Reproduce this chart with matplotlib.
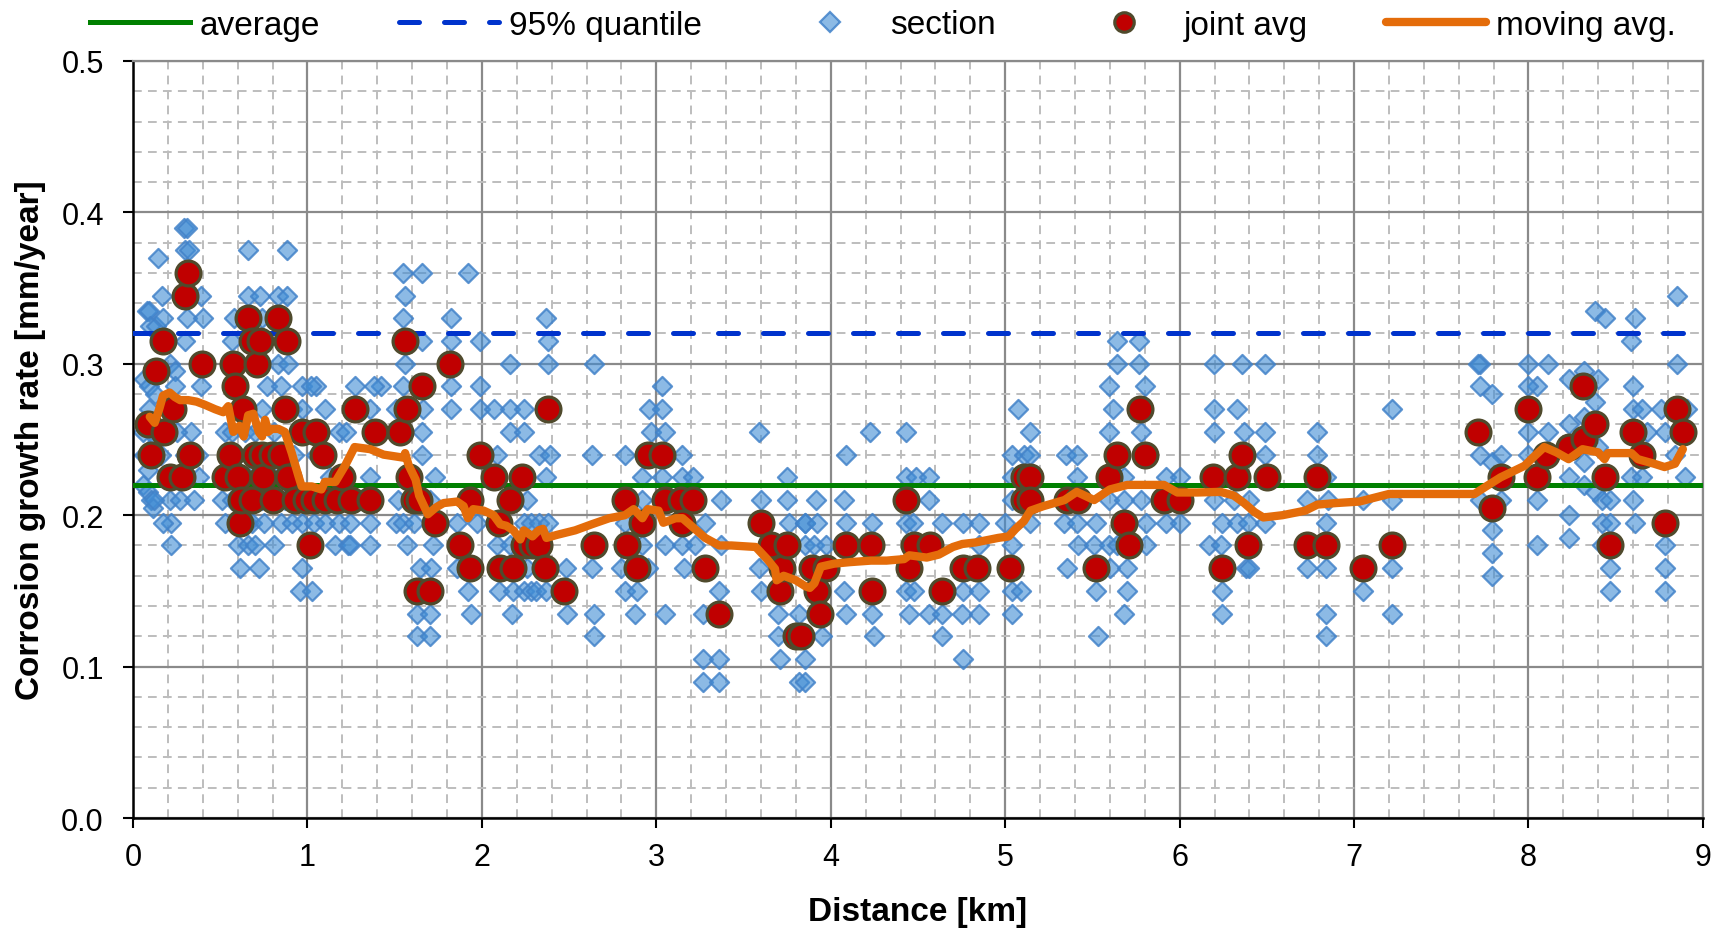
import matplotlib
matplotlib.use("Agg")
import matplotlib.pyplot as plt
from matplotlib.lines import Line2D
from matplotlib.ticker import MultipleLocator, FormatStrFormatter

plt.rcParams['font.family'] = ['Liberation Sans', 'DejaVu Sans']

# Reference levels [mm/year]
average_rate = 0.22
quantile_95 = 0.32

# Individual section measurements: distance [km] and corrosion growth rate [mm/year]
section_km = [
    0.08, 0.09, 0.095, 0.13, 0.145, 0.165, 0.17, 0.29, 0.31, 0.30, 0.32, 0.31, 0.30, 0.39, 0.40,
    0.21, 0.24, 0.065, 0.09, 0.125, 0.24, 0.39, 0.22, 0.09, 0.06, 0.33, 0.11, 0.065, 0.14, 0.25,
    0.30, 0.37, 0.06, 0.085, 0.085, 0.105, 0.115, 0.21, 0.27, 0.22, 0.22, 0.12, 0.17, 0.35, 0.38, 0.16,
    0.66, 0.88, 0.66, 0.73, 0.83, 0.88, 0.58, 0.74, 0.565, 0.83, 0.89, 0.77, 0.85, 0.97, 1.05,
    0.74, 0.91, 0.97, 1.10, 0.53, 0.565, 0.64, 0.70, 0.81, 0.60, 0.66, 0.76, 0.92, 0.53, 0.66,
    0.70, 0.80, 0.86, 0.51, 0.57, 0.74, 0.87, 0.527, 0.66, 0.68, 0.75, 0.85, 0.91, 0.97, 0.60,
    0.66, 0.70, 0.81, 0.613, 0.72, 0.97, 0.96, 1.025, 1.04, 1.10, 1.18, 1.16, 1.23, 1.18, 1.22,
    1.27, 1.05, 1.13, 1.20, 1.42, 1.02,
    1.55, 1.656, 1.92, 1.56, 1.55, 1.82, 2.37, 1.656, 1.82, 1.99, 2.38, 1.56, 2.16, 2.38, 1.55,
    1.82, 1.99, 1.38, 1.51, 1.665, 1.82, 1.99, 2.07, 2.16, 2.24, 1.36, 1.656, 2.16, 2.24, 1.656,
    2.086, 2.325, 2.39, 1.36, 1.73, 2.37, 1.52, 1.70, 2.26, 1.245, 1.36, 1.51, 1.55, 1.61, 1.857,
    1.97, 2.24, 2.28, 2.33, 2.38, 1.245, 1.36, 1.57, 1.72, 2.086, 2.16, 1.646, 1.71, 1.857, 2.26,
    2.48, 1.92, 2.10, 2.18, 2.24, 2.28, 2.31, 2.37, 1.627, 1.70, 1.94, 2.17, 2.49, 1.627, 1.70,
    2.64, 3.03, 2.96, 3.03, 2.97, 3.05, 3.59, 2.63, 2.82, 3.15, 2.92, 3.03, 3.15, 3.21, 3.75,
    2.92, 3.37, 3.60, 3.75, 2.82, 3.28, 3.76, 3.85, 2.92, 3.05, 3.15, 3.22, 3.37, 2.63, 2.80,
    2.95, 3.16, 3.59, 2.82, 2.89, 3.36, 3.60, 2.64, 2.88, 3.05, 3.27, 3.70, 3.82, 2.64, 3.70,
    3.27, 3.36, 3.71, 3.27, 3.36, 3.82,
    5.075, 4.226, 4.434, 4.085, 5.04, 5.11, 4.434, 4.49, 4.566, 5.04, 3.915, 4.075, 4.566, 5.04,
    3.85, 3.92, 4.085, 4.236, 4.434, 4.47, 4.64, 4.76, 4.85, 5.00, 3.85, 3.906, 3.97, 4.85, 5.04,
    4.075, 4.236, 4.434, 4.48, 4.76, 4.85, 5.04, 5.09, 4.085, 4.236, 4.45, 4.566, 4.64, 4.755,
    4.85, 5.04, 3.95, 4.245, 4.64, 4.76, 3.85, 3.85,
    5.64, 5.767, 5.64, 5.767, 6.197, 6.36, 5.595, 5.80, 5.62, 6.197, 6.33, 5.145, 5.595, 5.776,
    6.197, 6.37, 5.145, 5.346, 5.413, 5.41, 5.68, 5.92, 6.00, 5.595, 5.68, 5.776, 6.197, 6.31,
    5.145, 5.337, 5.41, 5.52, 5.805, 5.92, 6.00, 6.245, 6.33, 6.39, 5.42, 5.51, 5.595, 5.64,
    5.81, 6.17, 6.235, 5.356, 5.60, 5.70, 6.38, 5.52, 5.70, 6.245, 5.68, 6.245, 5.53,
    6.49, 6.49, 6.79, 6.49, 6.79, 6.84, 6.73, 6.85, 7.05, 7.22, 6.40, 6.49, 6.84, 7.22, 6.73,
    6.84, 7.22, 6.40, 7.05, 6.84, 7.22, 6.84, 7.72, 7.72, 7.72, 7.72,
    8.85, 8.38, 8.44, 8.61, 8.59, 7.71, 8.00, 8.11, 8.85, 8.32, 8.40, 8.23, 8.05, 7.79, 8.00,
    8.60, 8.38, 8.60, 8.65, 8.76, 8.91, 8.23, 8.32, 8.00, 8.11, 8.78, 8.68, 7.84, 8.00, 7.79,
    8.32, 8.40, 8.84, 8.23, 8.32, 8.38, 8.59, 8.65, 8.895, 8.05, 8.42, 8.47, 8.60, 7.84, 8.23,
    8.42, 8.47, 8.61, 7.79, 8.23, 8.05, 8.78, 8.42, 7.79, 8.47, 8.78, 7.79, 8.47, 8.78,
]
section_rate = [
    0.335, 0.335, 0.325, 0.325, 0.37, 0.345, 0.33, 0.39, 0.39, 0.375, 0.375, 0.33, 0.315, 0.345, 0.33,
    0.30, 0.295, 0.29, 0.285, 0.28, 0.285, 0.285, 0.27, 0.27, 0.255, 0.255, 0.245, 0.24, 0.25, 0.255,
    0.24, 0.24, 0.22, 0.23, 0.215, 0.21, 0.205, 0.21, 0.21, 0.195, 0.18, 0.21, 0.195, 0.21, 0.225, 0.24,
    0.375, 0.375, 0.345, 0.345, 0.345, 0.345, 0.33, 0.33, 0.315, 0.30, 0.30, 0.285, 0.285, 0.285, 0.285,
    0.27, 0.27, 0.27, 0.27, 0.255, 0.255, 0.255, 0.255, 0.255, 0.24, 0.24, 0.24, 0.24, 0.225, 0.225,
    0.225, 0.225, 0.225, 0.21, 0.21, 0.21, 0.21, 0.195, 0.195, 0.195, 0.195, 0.195, 0.195, 0.195, 0.18,
    0.18, 0.18, 0.18, 0.165, 0.165, 0.165, 0.15, 0.15, 0.195, 0.195, 0.195, 0.18, 0.18, 0.255, 0.255,
    0.285, 0.24, 0.225, 0.21, 0.285, 0.285,
    0.36, 0.36, 0.36, 0.345, 0.33, 0.33, 0.33, 0.315, 0.315, 0.315, 0.315, 0.30, 0.30, 0.30, 0.285,
    0.285, 0.285, 0.285, 0.27, 0.27, 0.27, 0.27, 0.27, 0.27, 0.27, 0.27, 0.255, 0.255, 0.255, 0.24,
    0.24, 0.24, 0.24, 0.225, 0.225, 0.225, 0.21, 0.21, 0.21, 0.195, 0.195, 0.195, 0.195, 0.195, 0.195,
    0.195, 0.195, 0.195, 0.195, 0.195, 0.18, 0.18, 0.18, 0.18, 0.18, 0.18, 0.165, 0.165, 0.165, 0.165,
    0.165, 0.15, 0.15, 0.15, 0.15, 0.15, 0.15, 0.15, 0.135, 0.135, 0.135, 0.135, 0.135, 0.12, 0.12,
    0.30, 0.285, 0.27, 0.27, 0.255, 0.255, 0.255, 0.24, 0.24, 0.24, 0.225, 0.225, 0.225, 0.225, 0.225,
    0.21, 0.21, 0.21, 0.21, 0.195, 0.195, 0.195, 0.195, 0.18, 0.18, 0.18, 0.18, 0.18, 0.165, 0.165,
    0.165, 0.165, 0.165, 0.15, 0.15, 0.15, 0.15, 0.135, 0.135, 0.135, 0.135, 0.135, 0.135, 0.12, 0.12,
    0.105, 0.105, 0.105, 0.09, 0.09, 0.09,
    0.27, 0.255, 0.255, 0.24, 0.24, 0.24, 0.225, 0.225, 0.225, 0.225, 0.21, 0.21, 0.21, 0.21,
    0.195, 0.195, 0.195, 0.195, 0.195, 0.195, 0.195, 0.195, 0.195, 0.195, 0.18, 0.18, 0.18, 0.18, 0.18,
    0.15, 0.15, 0.15, 0.15, 0.15, 0.15, 0.15, 0.15, 0.135, 0.135, 0.135, 0.135, 0.135, 0.135,
    0.135, 0.135, 0.12, 0.12, 0.12, 0.105, 0.105, 0.09,
    0.315, 0.315, 0.30, 0.30, 0.30, 0.30, 0.285, 0.285, 0.27, 0.27, 0.27, 0.255, 0.255, 0.255,
    0.255, 0.255, 0.24, 0.24, 0.24, 0.225, 0.225, 0.225, 0.225, 0.21, 0.21, 0.21, 0.21, 0.21,
    0.195, 0.195, 0.195, 0.195, 0.195, 0.195, 0.195, 0.195, 0.195, 0.195, 0.18, 0.18, 0.18, 0.18,
    0.18, 0.18, 0.18, 0.165, 0.165, 0.165, 0.165, 0.15, 0.15, 0.15, 0.135, 0.135, 0.12,
    0.30, 0.255, 0.255, 0.24, 0.24, 0.225, 0.21, 0.21, 0.21, 0.21, 0.21, 0.195, 0.195, 0.27, 0.165,
    0.165, 0.165, 0.165, 0.15, 0.135, 0.135, 0.12, 0.30, 0.285, 0.24, 0.21,
    0.345, 0.335, 0.33, 0.33, 0.315, 0.30, 0.30, 0.30, 0.30, 0.295, 0.29, 0.29, 0.285, 0.28, 0.285,
    0.285, 0.275, 0.27, 0.27, 0.27, 0.27, 0.26, 0.265, 0.255, 0.255, 0.255, 0.255, 0.24, 0.24, 0.235,
    0.235, 0.245, 0.24, 0.225, 0.22, 0.215, 0.225, 0.225, 0.225, 0.21, 0.21, 0.21, 0.21, 0.21, 0.20,
    0.195, 0.195, 0.195, 0.19, 0.185, 0.18, 0.18, 0.18, 0.175, 0.165, 0.165, 0.16, 0.15, 0.15,
]

# Average rate per joint
joint_km = [
    0.086, 0.105, 0.134, 0.169, 0.18, 0.21, 0.23, 0.28, 0.297, 0.316, 0.326, 0.393, 0.527, 0.556,
    0.575, 0.584, 0.60, 0.613, 0.62, 0.632, 0.661, 0.68, 0.68, 0.70, 0.71, 0.73, 0.74, 0.747, 0.795,
    0.80, 0.833, 0.85, 0.87, 0.88, 0.89, 0.93, 0.967, 0.99, 1.015, 1.04, 1.05, 1.09, 1.10, 1.17,
    1.20, 1.25, 1.27, 1.36, 1.39, 1.53, 1.56, 1.57, 1.58, 1.61, 1.627, 1.64, 1.656, 1.70, 1.73,
    1.815, 1.876, 1.93, 1.93, 1.99, 2.07, 2.10, 2.105, 2.16, 2.18, 2.23, 2.24, 2.29, 2.33, 2.36,
    2.38, 2.47, 2.64, 2.82, 2.83, 2.89, 2.92, 2.95, 3.03, 3.05, 3.14, 3.15, 3.21, 3.28, 3.36,
    3.60, 3.66, 3.71, 3.72, 3.75, 3.80, 3.83, 3.89, 3.92, 3.94, 3.97, 4.085, 4.23, 4.235, 4.43,
    4.45, 4.48, 4.57, 4.64, 4.76, 4.84, 5.03, 5.11, 5.11, 5.145, 5.145, 5.355, 5.42, 5.52, 5.595,
    5.64, 5.68, 5.71, 5.77, 5.80, 5.91, 6.00, 6.19, 6.245, 6.33, 6.36, 6.39, 6.50, 6.73, 6.79,
    6.84, 7.05, 7.22, 7.71, 7.79, 7.84, 8.00, 8.05, 8.10, 8.23, 8.31, 8.32, 8.38, 8.44, 8.47,
    8.60, 8.65, 8.78, 8.85, 8.885,
]
joint_rate = [
    0.26, 0.24, 0.295, 0.315, 0.255, 0.225, 0.27, 0.225, 0.345, 0.36, 0.24, 0.30, 0.225, 0.24,
    0.30, 0.285, 0.225, 0.195, 0.21, 0.27, 0.33, 0.21, 0.315, 0.24, 0.30, 0.315, 0.24, 0.225, 0.24,
    0.21, 0.33, 0.24, 0.27, 0.315, 0.225, 0.21, 0.255, 0.21, 0.18, 0.21, 0.255, 0.24, 0.21, 0.21,
    0.225, 0.21, 0.27, 0.21, 0.255, 0.255, 0.315, 0.27, 0.225, 0.21, 0.15, 0.21, 0.285, 0.15, 0.195,
    0.30, 0.18, 0.165, 0.21, 0.24, 0.225, 0.195, 0.165, 0.21, 0.165, 0.225, 0.18, 0.18, 0.18, 0.165,
    0.27, 0.15, 0.18, 0.21, 0.18, 0.165, 0.195, 0.24, 0.24, 0.21, 0.21, 0.195, 0.21, 0.165, 0.135,
    0.195, 0.18, 0.15, 0.165, 0.18, 0.12, 0.12, 0.165, 0.15, 0.135, 0.165, 0.18, 0.18, 0.15, 0.21,
    0.165, 0.18, 0.18, 0.15, 0.165, 0.165, 0.165, 0.225, 0.21, 0.225, 0.21, 0.21, 0.21, 0.165, 0.225,
    0.24, 0.195, 0.18, 0.27, 0.24, 0.21, 0.21, 0.225, 0.165, 0.225, 0.24, 0.18, 0.225, 0.18, 0.225,
    0.18, 0.165, 0.18, 0.255, 0.205, 0.225, 0.27, 0.225, 0.24, 0.245, 0.285, 0.25, 0.26, 0.225, 0.18,
    0.255, 0.24, 0.195, 0.27, 0.255,
]

# Moving average along the line
moving_km = [
    0.096, 0.124, 0.15, 0.172, 0.21, 0.24, 0.27, 0.316, 0.364, 0.41, 0.47, 0.517, 0.546, 0.575,
    0.61, 0.635, 0.66, 0.69, 0.72, 0.74, 0.757, 0.775, 0.795, 0.833, 0.87, 0.91, 0.948, 0.967,
    1.025, 1.08, 1.10, 1.16, 1.217, 1.27, 1.36, 1.436, 1.55, 1.56, 1.58, 1.62, 1.64, 1.69, 1.735,
    1.78, 1.857, 1.895, 1.92, 1.95, 2.01, 2.067, 2.105, 2.14, 2.18, 2.22, 2.24, 2.29, 2.325, 2.35,
    2.37, 2.43, 2.535, 2.63, 2.73, 2.82, 2.87, 2.92, 2.95, 3.013, 3.04, 3.11, 3.15, 3.20, 3.28,
    3.36, 3.43, 3.57, 3.635, 3.68, 3.69, 3.73, 3.80, 3.855, 3.88, 3.906, 3.943, 4.02, 4.11, 4.23,
    4.32, 4.42, 4.45, 4.55, 4.62, 4.70, 4.755, 4.83, 4.96, 5.02, 5.06, 5.107, 5.145, 5.22, 5.34,
    5.41, 5.51, 5.60, 5.70, 5.91, 5.987, 6.10, 6.235, 6.31, 6.37, 6.43, 6.48, 6.59, 6.72, 6.79,
    6.895, 7.03, 7.20, 7.35, 7.69, 7.75, 7.84, 7.977, 8.034, 8.09, 8.16, 8.23, 8.31, 8.40, 8.436,
    8.455, 8.59, 8.627, 8.72, 8.78, 8.84, 8.885,
]
moving_rate = [
    0.265, 0.261, 0.27, 0.279, 0.281, 0.278, 0.276, 0.276, 0.275, 0.273, 0.27, 0.268, 0.272, 0.255,
    0.259, 0.252, 0.266, 0.267, 0.255, 0.252, 0.263, 0.255, 0.257, 0.257, 0.255, 0.241, 0.226, 0.219,
    0.219, 0.217, 0.222, 0.222, 0.233, 0.245, 0.2436, 0.240, 0.238, 0.241, 0.233, 0.2235, 0.213,
    0.2006, 0.205, 0.208, 0.209, 0.206, 0.198, 0.204, 0.203, 0.200, 0.194, 0.193, 0.190, 0.184,
    0.190, 0.186, 0.190, 0.191, 0.185, 0.187, 0.190, 0.194, 0.198, 0.200, 0.204, 0.198, 0.204,
    0.203, 0.195, 0.198, 0.198, 0.193, 0.185, 0.180, 0.180, 0.179, 0.171, 0.1646, 0.157, 0.160,
    0.157, 0.153, 0.152, 0.155, 0.166, 0.168, 0.169, 0.170, 0.170, 0.171, 0.1735, 0.172, 0.174,
    0.179, 0.181, 0.182, 0.185, 0.186, 0.191, 0.196, 0.203, 0.206, 0.210, 0.2154, 0.210, 0.217,
    0.220, 0.220, 0.215, 0.215, 0.2154, 0.213, 0.208, 0.202, 0.1985, 0.200, 0.203, 0.207, 0.208,
    0.209, 0.214, 0.214, 0.214, 0.2185, 0.225, 0.2326, 0.239, 0.245, 0.2415, 0.237, 0.2436, 0.2415,
    0.237, 0.241, 0.241, 0.237, 0.234, 0.2318, 0.234, 0.2436,
]

x_ticks = list(range(0, 10))
y_ticks = [0.0, 0.1, 0.2, 0.3, 0.4, 0.5]

fig = plt.figure(figsize=(17.21, 9.29), dpi=100)
ax = fig.add_axes([0.0773, 0.1184, 0.9122, 0.8149])

ax.set_xlim(0, 9)
ax.set_ylim(0, 0.5)
ax.set_xticks(x_ticks)
ax.set_yticks(y_ticks)
ax.yaxis.set_major_formatter(FormatStrFormatter('%.1f'))
ax.xaxis.set_minor_locator(MultipleLocator(0.2))
ax.yaxis.set_minor_locator(MultipleLocator(0.02))

ax.set_axisbelow(True)
ax.grid(which='major', color='#8a8a8a', linewidth=1.6, linestyle='-')
ax.grid(which='minor', color='#bdbdbd', linewidth=1.4, linestyle=(0, (4.5, 3.2)))

ax.tick_params(which='major', direction='out', length=7, width=1.5, color='black',
               labelsize=22, pad=10)
ax.tick_params(axis='y', which='major', pad=14)
ax.tick_params(which='minor', length=0)

for side in ('left', 'bottom'):
    ax.spines[side].set_color('black')
    ax.spines[side].set_linewidth(1.8)
for side in ('top', 'right'):
    ax.spines[side].set_color('#8a8a8a')
    ax.spines[side].set_linewidth(1.6)

diamond_face = (0.25, 0.55, 0.83, 0.6)
diamond_edge = (0.26, 0.51, 0.79, 0.85)
ax.scatter(section_km, section_rate, marker='D', s=95, facecolor=diamond_face,
           edgecolor=diamond_edge, linewidths=1.6, zorder=2)

ax.axhline(average_rate, color='#008000', linewidth=3.6, zorder=3)
ax.axhline(quantile_95, color='#0033cc', linewidth=3.6, linestyle=(0, (4.0, 5.0)),
           dash_capstyle='round', zorder=3)

ax.scatter(joint_km, joint_rate, marker='o', s=320, facecolor='#c00000',
           edgecolor='#4f4a2c', linewidths=2.3, zorder=4)

ax.plot(moving_km, moving_rate, color='#e46c0a', linewidth=6, solid_joinstyle='round',
        solid_capstyle='round', zorder=5)

ax.set_xlabel('Distance [km]', fontsize=24, fontweight='bold', va='center', ha='center')
ax.xaxis.set_label_coords(0.5, -0.123)
ax.set_ylabel('Corrosion growth rate [mm/year]', fontsize=24, fontweight='bold',
              va='center', ha='center')
ax.yaxis.set_label_coords(-0.0656, 0.5)

handles = [
    Line2D([], [], color='#008000', linewidth=3.6),
    Line2D([], [], color='#0033cc', linewidth=3.6, linestyle=(0, (4.0, 5.0)),
           dash_capstyle='round'),
    Line2D([], [], linestyle='none', marker='D', markersize=10, markerfacecolor=diamond_face,
           markeredgecolor=diamond_edge, markeredgewidth=1.6),
    Line2D([], [], linestyle='none', marker='o', markersize=14, markerfacecolor='#c00000',
           markeredgecolor='#4f4a2c', markeredgewidth=2.3),
    Line2D([], [], color='#e46c0a', linewidth=6, solid_capstyle='round'),
]
labels = ['average', '95% quantile', 'section', 'joint avg', 'moving avg.']
fig.legend(handles, labels, loc='center', bbox_to_anchor=(0.513, 1 - 26 / 929), ncol=5,
           frameon=False, fontsize=24, handlelength=3.0, handletextpad=0.3,
           columnspacing=2.35, borderaxespad=0, borderpad=0)

fig.savefig('out.png', dpi=100)
